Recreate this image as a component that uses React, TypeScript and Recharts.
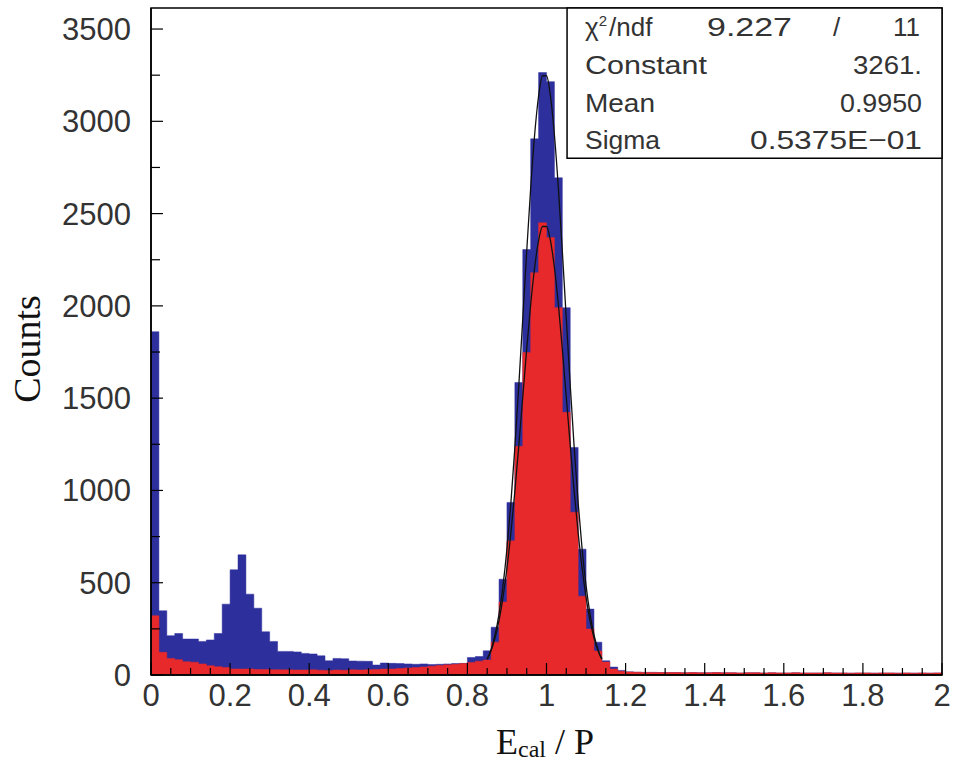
import { ComposedChart, Area, Line, XAxis, YAxis, ReferenceArea } from "recharts";

// histogram: 100 bins of 0.02 between 0 and 2
const binWidth = 0.02;

const blueCounts = [
  1860, 348, 213, 225, 195, 195, 182, 190, 225, 384,
  570, 651, 438, 362, 234, 182, 128, 128, 125, 117,
  114, 104, 77, 90, 88, 76, 75, 74, 54, 65,
  63, 62, 60, 58, 60, 57, 58, 60, 62, 63,
  95, 100, 131, 259, 519, 935, 1585, 2305, 2905, 3264,
  3215, 2694, 1990, 1233, 682, 357, 178, 77, 43, 25,
  17, 15, 14, 14, 13, 13, 13, 12, 13, 12,
  12, 13, 12, 12, 11, 12, 12, 11, 12, 11,
  11, 12, 11, 11, 11, 12, 11, 11, 10, 11,
  11, 10, 11, 11, 10, 11, 10, 11, 10, 11,
];

const redCounts = [
  321, 123, 90, 83, 72, 69, 60, 50, 45, 41,
  33, 32, 33, 30, 30, 29, 28, 28, 27, 27,
  28, 26, 25, 27, 26, 28, 27, 29, 30, 32,
  33, 35, 38, 40, 44, 48, 52, 55, 58, 62,
  68, 75, 81, 178, 395, 727, 1239, 1747, 2180, 2450,
  2370, 1990, 1423, 882, 427, 249, 130, 70, 32, 20,
  16, 15, 14, 14, 13, 13, 13, 12, 13, 12,
  12, 13, 12, 12, 11, 12, 12, 11, 12, 11,
  11, 12, 11, 11, 11, 12, 11, 11, 10, 11,
  11, 10, 11, 11, 10, 11, 10, 11, 10, 11,
];

// gaussian fit curves as drawn over the peak
const fitX = [
  0.85, 0.86, 0.87, 0.88, 0.89, 0.9, 0.91, 0.92, 0.93, 0.94,
  0.95, 0.96, 0.97, 0.98, 0.99, 1.0, 1.01, 1.02, 1.03, 1.04,
  1.05, 1.06, 1.07, 1.08, 1.09, 1.1, 1.11, 1.12, 1.13, 1.14,
];
const blueFit = [
  86, 139, 218, 331, 484, 684, 934, 1233, 1570, 1932,
  2297, 2638, 2927, 3137, 3247, 3247, 3137, 2927, 2638, 2297,
  1932, 1570, 1233, 934, 684, 484, 331, 218, 139, 86,
];
const redFit = [
  85, 133, 202, 296, 421, 579, 771, 995, 1244, 1507,
  1767, 2008, 2208, 2354, 2430, 2430, 2354, 2208, 2008, 1767,
  1507, 1244, 995, 771, 579, 421, 296, 202, 133, 85,
];

const xTickLabels = ["0", "0.2", "0.4", "0.6", "0.8", "1", "1.2", "1.4", "1.6", "1.8", "2"];
const yTickLabels = ["0", "500", "1000", "1500", "2000", "2500", "3000", "3500"];

const statRows = [
  { name: "Constant", value: "3261." },
  { name: "Mean", value: "0.9950" },
  { name: "Sigma", value: "0.5375E\u221201" },
];

const BLUE = "#2c2f9c";
const RED = "#e8292b";
const FONT = "'Liberation Sans', Arial, sans-serif";
const SERIF = "'Liberation Serif', 'Times New Roman', serif";

const PLOT_LEFT = 151;
const PLOT_BOTTOM = 675;
const Y_MAX = 3614;

const histData = blueCounts.map((b, i) => ({
  x: +(i * binWidth).toFixed(2),
  blue: b,
  red: redCounts[i],
}));
histData.push({ x: 2, blue: blueCounts[blueCounts.length - 1], red: redCounts[redCounts.length - 1] });

const fitData = fitX.map((x, i) => ({ x, blueFit: blueFit[i], redFit: redFit[i] }));

const xTicks: number[] = [];
for (let i = 0; i <= 40; i++) xTicks.push(+(i * 0.05).toFixed(2));
const yTicks: number[] = [];
for (let i = 0; i <= 14; i++) yTicks.push(i * 250);

// rough widths of the stats box texts in the picture (the font there is wide)
const nameWidth: Record<string, number> = { Constant: 122, Mean: 70, Sigma: 75 };
const valueWidth: Record<string, number> = { "3261.": 69, "0.9950": 82, "0.5375E\u221201": 172 };

function XTick(props: any) {
  const { x, payload } = props;
  const label = xTickLabels.find((l) => Math.abs(parseFloat(l) - payload.value) < 1e-6);
  return (
    <g>
      <line x1={x} x2={x} y1={PLOT_BOTTOM} y2={PLOT_BOTTOM - (label ? 12 : 7)} stroke="#000" strokeWidth={1.2} />
      {label && (
        <text x={x} y={706} textAnchor="middle" fontSize={31} fontFamily={FONT} fill="#333">
          {label}
        </text>
      )}
    </g>
  );
}

function YTick(props: any) {
  const { y, payload } = props;
  const label = yTickLabels.find((l) => parseFloat(l) === payload.value);
  return (
    <g>
      <line x1={PLOT_LEFT} x2={PLOT_LEFT + (label ? 12 : 9)} y1={y} y2={y} stroke="#000" strokeWidth={1.2} />
      {label && (
        <text x={131} y={y + 11} textAnchor="end" fontSize={31} fontFamily={FONT} fill="#333">
          {label}
        </text>
      )}
    </g>
  );
}

const XTitle = () => (
  <text x={496} y={754} fontSize={36} fontFamily={SERIF} fill="#111">
    E
    <tspan fontSize={24} dy={3}>cal</tspan>
    <tspan dy={-3}> / P</tspan>
  </text>
);

const YTitle = () => (
  <text x={40} y={349} transform="rotate(-90, 40, 349)" textAnchor="middle" fontSize={38} fontFamily={SERIF} fill="#111">
    Counts
  </text>
);

const StatsLabel = () => (
  <g fontFamily={FONT} fill="#333" fontSize={26}>
    <text x={585} y={36}>
      χ<tspan fontSize={15} dy={-10}>2</tspan>
      <tspan dy={10} dx={2}>/ndf</tspan>
    </text>
    <text x={707} y={36} textLength={85} lengthAdjust="spacingAndGlyphs">9.227</text>
    <text x={833} y={36}>/</text>
    <text x={920} y={36} textAnchor="end">11</text>
    {statRows.map((r, i) => (
      <g key={r.name}>
        <text x={585} y={74 + i * 37.5} textLength={nameWidth[r.name]} lengthAdjust="spacingAndGlyphs">
          {r.name}
        </text>
        <text
          x={922 - valueWidth[r.value]}
          y={74 + i * 37.5}
          textLength={valueWidth[r.value]}
          lengthAdjust="spacingAndGlyphs"
        >
          {r.value}
        </text>
      </g>
    ))}
  </g>
);

export default function App() {
  return (
    <div style={{ position: "absolute", left: 0, top: 0, width: 956, height: 766, background: "#fff" }}>
      <ComposedChart width={956} height={766} data={histData} margin={{ top: 8, right: 14, bottom: 0, left: 0 }}>
        <XAxis
          dataKey="x"
          type="number"
          domain={[0, 2]}
          ticks={xTicks}
          interval={0}
          tick={<XTick />}
          tickLine={false}
          axisLine={{ stroke: "#000", strokeWidth: 1.5 }}
          height={91}
          label={<XTitle />}
        />
        <YAxis
          type="number"
          domain={[0, Y_MAX]}
          allowDataOverflow
          ticks={yTicks}
          interval={0}
          tick={<YTick />}
          tickLine={false}
          axisLine={{ stroke: "#000", strokeWidth: 1.5 }}
          width={151}
          label={<YTitle />}
        />
        <Area
          type="stepAfter"
          dataKey="blue"
          fill={BLUE}
          fillOpacity={1}
          stroke={BLUE}
          strokeWidth={0.5}
          isAnimationActive={false}
        />
        <Area
          type="stepAfter"
          dataKey="red"
          fill={RED}
          fillOpacity={1}
          stroke={RED}
          strokeWidth={0.5}
          isAnimationActive={false}
        />
        <Line data={fitData} type="monotone" dataKey="blueFit" stroke="#111" strokeWidth={1.3} dot={false} isAnimationActive={false} />
        <Line data={fitData} type="monotone" dataKey="redFit" stroke="#111" strokeWidth={1.3} dot={false} isAnimationActive={false} />
        <ReferenceArea x1={0} x2={2} y1={0} y2={Y_MAX} fill="none" stroke="#000" strokeWidth={1.5} />
        <ReferenceArea
          x1={1.052}
          x2={2}
          y1={2800}
          y2={Y_MAX}
          fill="#fff"
          fillOpacity={1}
          stroke="#000"
          strokeWidth={1.5}
          label={<StatsLabel />}
        />
      </ComposedChart>
    </div>
  );
}
